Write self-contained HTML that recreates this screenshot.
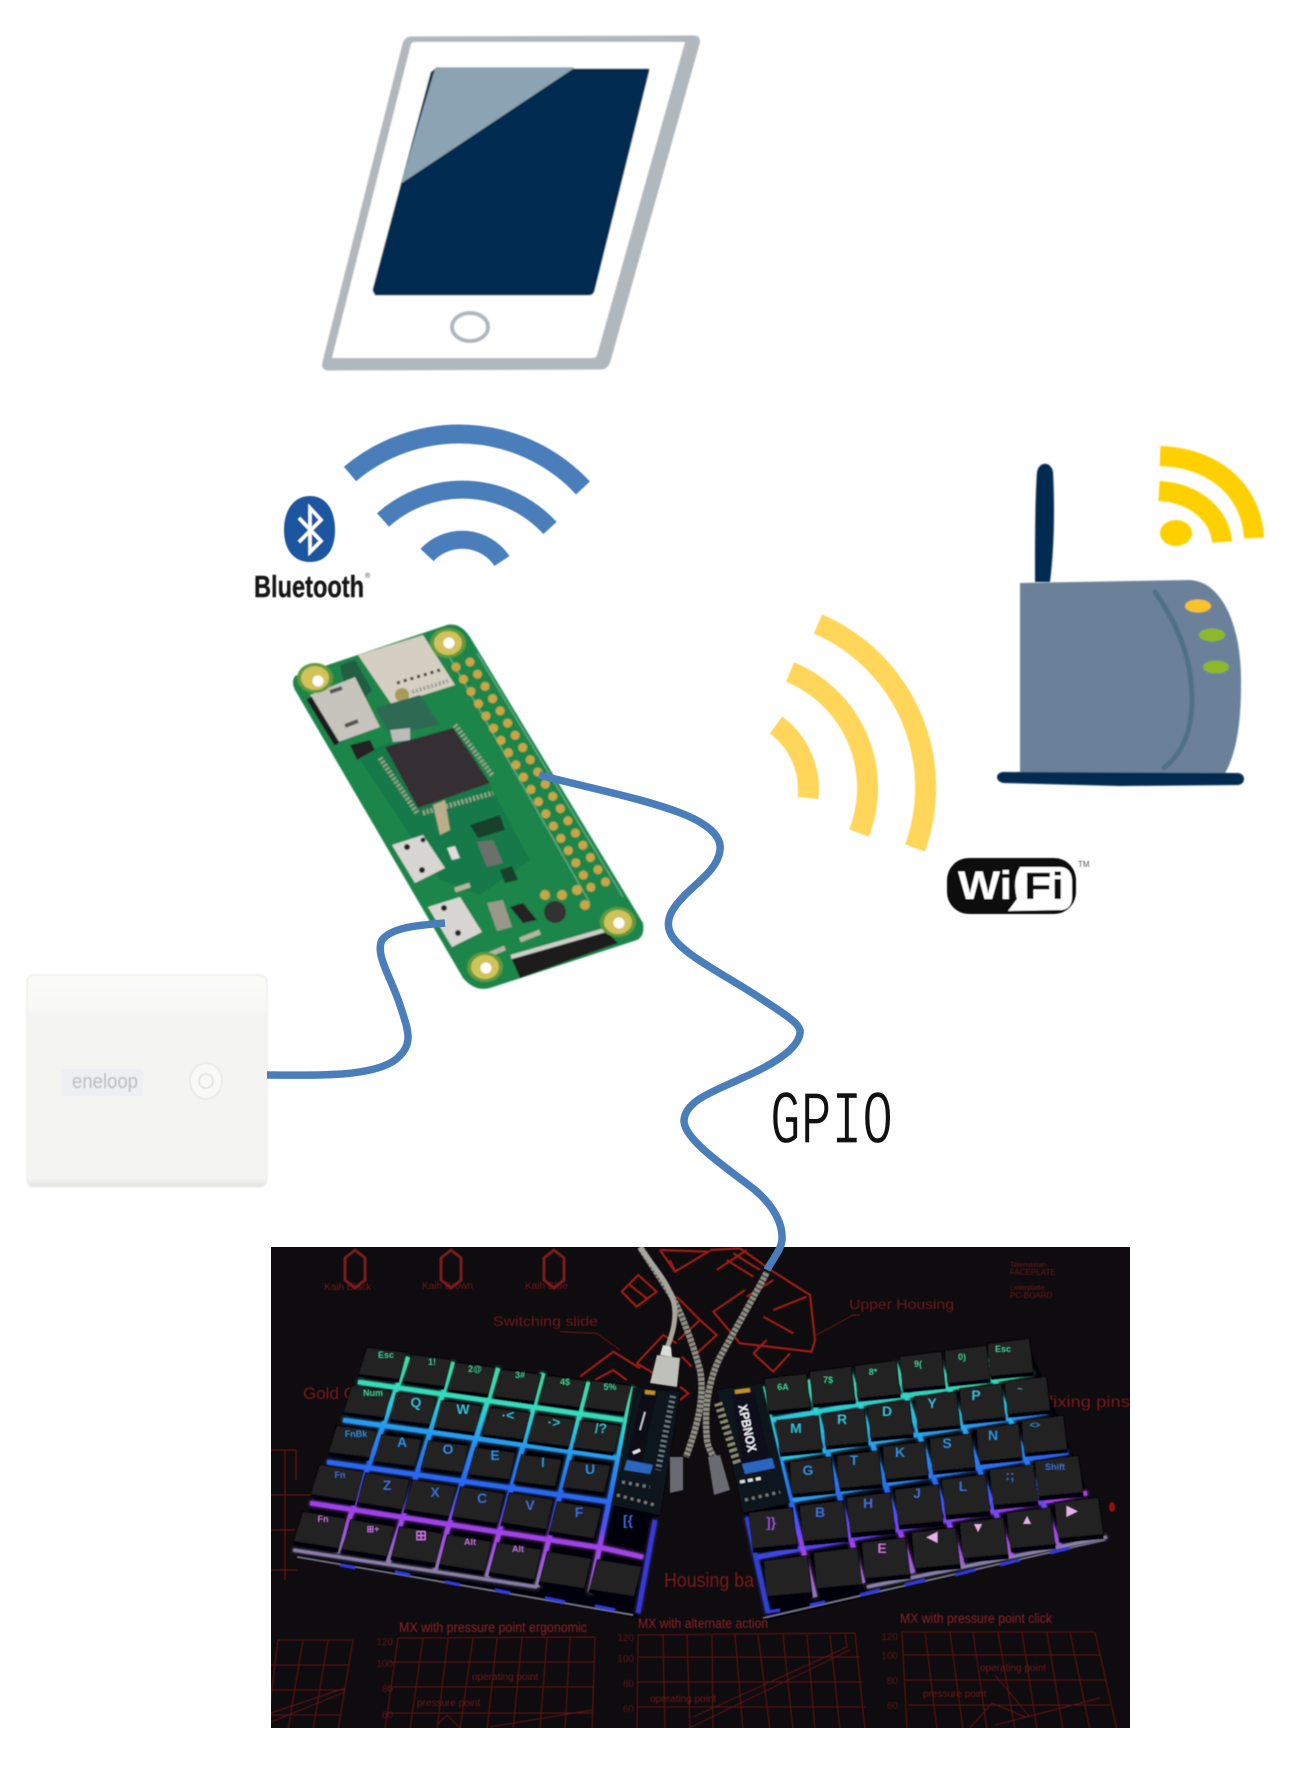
<!DOCTYPE html>
<html lang="en">
<head>
<meta charset="utf-8">
<title>Diagram</title>
<style>
html,body{margin:0;padding:0;background:#fff}
svg{display:block}
text{font-family:"Liberation Sans",sans-serif}
</style>
</head>
<body>
<svg xmlns="http://www.w3.org/2000/svg" width="1300" height="1787" viewBox="0 0 1300 1787">
<defs>
<filter id="b1" filterUnits="userSpaceOnUse" x="0" y="0" width="1300" height="1787"><feGaussianBlur stdDeviation="0.9"/></filter>
<filter id="b0" filterUnits="userSpaceOnUse" x="0" y="0" width="1300" height="1787"><feGaussianBlur stdDeviation="0.6"/></filter>
<filter id="gl" filterUnits="userSpaceOnUse" x="260" y="1330" width="870" height="310"><feGaussianBlur stdDeviation="1.8" result="a"/><feMerge><feMergeNode in="a"/><feMergeNode in="SourceGraphic"/></feMerge></filter>
<clipPath id="kb"><rect x="271" y="1247" width="859" height="481"/></clipPath>
<linearGradient id="gL" gradientUnits="userSpaceOnUse" x1="400" y1="1345" x2="360" y2="1620">
<stop offset="0" stop-color="#3cdc9c"/><stop offset=".15" stop-color="#36dcb8"/><stop offset=".22" stop-color="#28c8e0"/><stop offset=".30" stop-color="#2898f0"/><stop offset=".45" stop-color="#2868f0"/><stop offset=".54" stop-color="#5050f0"/><stop offset=".61" stop-color="#a040e8"/><stop offset=".72" stop-color="#a060d8"/><stop offset=".785" stop-color="#8a80a8"/><stop offset="1" stop-color="#2a30b0"/>
</linearGradient>
<linearGradient id="gR" gradientUnits="userSpaceOnUse" x1="900" y1="1330" x2="930" y2="1605">
<stop offset="0" stop-color="#3cdc9c"/><stop offset=".2" stop-color="#36dcb8"/><stop offset=".3" stop-color="#28c8e0"/><stop offset=".42" stop-color="#2898f0"/><stop offset=".58" stop-color="#2868f0"/><stop offset=".66" stop-color="#5050f0"/><stop offset=".75" stop-color="#a040e8"/><stop offset=".85" stop-color="#a060d8"/><stop offset=".95" stop-color="#8a80a8"/><stop offset="1" stop-color="#2a30b0"/>
</linearGradient>
<linearGradient id="r1"><stop offset="0" stop-color="#28c8e0"/><stop offset="1" stop-color="#38dca0"/></linearGradient>
<linearGradient id="r2"><stop offset="0" stop-color="#28c8e8"/><stop offset="1" stop-color="#2a80f0"/></linearGradient>
<linearGradient id="r3"><stop offset="0" stop-color="#28a0f0"/><stop offset="1" stop-color="#2a60f0"/></linearGradient>
<linearGradient id="r4"><stop offset="0" stop-color="#3848e0"/><stop offset=".4" stop-color="#7040f0"/><stop offset="1" stop-color="#b040e8"/></linearGradient>
<linearGradient id="pb" x1="0" y1="0" x2="0" y2="1">
<stop offset="0" stop-color="#fafaf8"/><stop offset=".16" stop-color="#f8f8f6"/><stop offset=".2" stop-color="#f4f4f3"/><stop offset=".96" stop-color="#f4f4f3"/><stop offset="1" stop-color="#e0e0de"/>
</linearGradient>
<g id="kl"><path d="M-17,-18L24,-13L16,18L-25,12Z" fill="#060607"/><path d="M-16,-17L23,-12L17,14L-24,9Z" fill="#222123"/></g>
<g id="Kl"><path d="M-18,-21L27,-14L18,21L-27,13Z" fill="#060607"/><path d="M-17,-20L26,-13L19,16L-26,9Z" fill="#222123"/></g>
<g id="kr"><path d="M-21,-17L22,-22L26,16L-17,20Z" fill="#060607"/><path d="M-20,-16L21,-21L25,12L-18,16Z" fill="#222123"/></g>
<g id="Kr"><path d="M-24,-18L21,-23L26,19L-19,23Z" fill="#060607"/><path d="M-23,-17L20,-22L25,14L-20,18Z" fill="#222123"/></g>
</defs>

<!-- Tablet -->
<g filter="url(#b1)">
<path d="M411,38L694,37Q700,37 698,44L609,361Q607,368 600,368L329,369Q322,369 324,362L404,44Q406,38 411,38Z" fill="#b1b8bd" stroke="#b1b8bd" stroke-width="3"/>
<path d="M413,42L685,42L597,355Q596,358 592,358L332,358L411,44Z" fill="#fff"/>
<path d="M436,70L648,70L593,291Q592,294 588,294L376,294L374,290L432,73Z" fill="#012c50" stroke="#012c50" stroke-width="3" stroke-linejoin="round"/>
<path d="M436,68L573,68L402,182Z" fill="#8ba3b3" stroke="#8ba3b3" stroke-width="1.5" stroke-linejoin="round"/>
<ellipse cx="470" cy="327" rx="18" ry="14" fill="#fff" stroke="#aeb5bb" stroke-width="4"/>
</g>

<!-- Bluetooth arcs -->
<g fill="none" stroke="#4a7ebb" filter="url(#b0)">
<path d="M350,474A169,169 0 0 1 583,488" stroke-width="19"/>
<path d="M383,520A119,119 0 0 1 550,528" stroke-width="18"/>
<path d="M427,555A48,48 0 0 1 502,561" stroke-width="18"/>
</g>
<g filter="url(#b0)">
<path d="M310,496C326,496 335,510 335,530C335,550 326,562 310,562C294,562 284,550 284,530C284,510 294,496 310,496Z" fill="#1f55a0"/>
<path d="M299,518L321,541L310,552L310,508L321,520L299,542" fill="none" stroke="#fff" stroke-width="3.5"/>
<text x="254" y="597" font-size="31" font-weight="700" fill="#151515" stroke="#151515" stroke-width=".4" textLength="110" lengthAdjust="spacingAndGlyphs">Bluetooth</text>
<text x="365" y="578" font-size="7" fill="#444">®</text>
</g>

<!-- Small yellow signal -->
<g filter="url(#b1)">
<ellipse cx="1176" cy="533" rx="16" ry="13" fill="#ffd000"/>
<path d="M1159,491C1196,493 1220,516 1222,542" fill="none" stroke="#ffd000" stroke-width="20"/>
<path d="M1160,456C1218,458 1252,494 1254,538" fill="none" stroke="#ffd000" stroke-width="20"/>
</g>

<!-- Router -->
<g filter="url(#b1)">
<path d="M1035,582C1035,540 1035,500 1037,472C1039,461 1051,461 1053,472C1055,510 1054,550 1050,582Z" fill="#012c50"/>
<path d="M1020,583L1190,580C1222,582 1242,625 1241,685C1241,725 1236,755 1224,775L1020,775Z" fill="#6b8199"/>
<path d="M1155,592C1182,630 1192,665 1192,700C1192,735 1180,755 1164,768" fill="none" stroke="#4f7087" stroke-width="5" stroke-linecap="round"/>
<path d="M1003,772L1238,773C1246,774 1246,784 1238,785L1120,786L1003,783C995,781 995,773 1003,772Z" fill="#012c50"/>
<ellipse cx="1198" cy="606" rx="13" ry="6.5" fill="#f9c32c"/>
<ellipse cx="1212" cy="635" rx="13" ry="6.5" fill="#8cb82b"/>
<ellipse cx="1216" cy="667" rx="13" ry="6.5" fill="#8cb82b"/>
</g>

<!-- Big yellow arcs -->
<g fill="none" stroke="#ffd65a" stroke-width="21" filter="url(#b0)">
<path d="M818,624A178,178 0 0 1 915,848"/>
<path d="M790,672A125,125 0 0 1 859,833"/>
<path d="M776,725A80,80 0 0 1 808,798"/>
</g>

<!-- Wi-Fi logo -->
<g filter="url(#b0)">
<rect x="947" y="858" width="129" height="56" rx="22" fill="#0a0a0a"/>
<path d="M1020,867L1060,867C1068,867 1072,873 1072,881L1072,897C1072,905 1068,910 1060,910L1008,911L1017,899Q1012,880 1020,867Z" fill="#fff"/>
<text x="958" y="899" font-size="40" font-weight="700" fill="#fff" textLength="54" lengthAdjust="spacingAndGlyphs">Wi</text>
<text x="1024" y="899" font-size="38" font-weight="700" fill="#111" textLength="40" lengthAdjust="spacingAndGlyphs">Fi</text>
<text x="1078" y="867" font-size="8" fill="#555">TM</text>
</g>

<!-- Raspberry Pi -->
<g filter="url(#b1)">
<path d="M295,676L447,625Q460,622 470,637L643,923Q645,936 637,940L490,988Q475,992 463,978L295,690Q291,682 295,676Z" fill="#1c8549"/>
<path d="M382,745L460,730L530,860L480,895L440,880L360,760Z" fill="#17794a"/>
<path d="M447,653L590,903M477,653L623,897" stroke="#66b088" stroke-width="1.2" fill="none"/>
<path d="M358,655L423,635L455,685L392,705Z" fill="#d4cfc0"/>
<circle cx="402" cy="695" r="7" fill="#a89a5a"/>
<path d="M397,683L440,670" stroke="#333" stroke-width="3" stroke-dasharray="3 4"/>
<path d="M412,692L448,681" stroke="#999" stroke-width="4" stroke-dasharray="2 2"/>
<path d="M340,665L355,660L372,690L358,705L345,690Z" fill="#235f42"/>
<path d="M375,708L420,695L440,725L390,735Z" fill="#2f6b53"/>
<path d="M310,695L355,677L380,727L338,742Z" fill="#c6c4bd"/>
<path d="M309,698L337,744" stroke="#1a1a1a" stroke-width="6"/>
<path d="M330,692L342,688M345,726L358,721" stroke="#555" stroke-width="4"/>
<path d="M385,747L453,728L490,783L418,808Z" fill="#342f30"/>
<path d="M380,758L417,813M423,813L493,793M455,725L492,775" stroke="#9aa68e" stroke-width="5" stroke-dasharray="2 2" fill="none"/>
<path d="M390,730L410,728L410,740L393,742Z" fill="#bbb"/>
<path d="M350,745L370,740L375,750L357,760Z" fill="#222"/>
<path d="M392,845L423,835L445,868L415,883Z" fill="#d8d6d2"/>
<path d="M428,907L460,897L482,932L452,947Z" fill="#d8d6d2"/>
<circle cx="407" cy="847" r="3" fill="#222"/><circle cx="422" cy="870" r="3" fill="#222"/><circle cx="423" cy="840" r="2.5" fill="#222"/>
<circle cx="444" cy="908" r="3" fill="#222"/><circle cx="458" cy="933" r="3" fill="#222"/>
<path d="M510,955L603,928L618,943L520,978Z" fill="#1c1c1c"/>
<path d="M511,957L605,930" stroke="#cfcfc8" stroke-width="4.5"/>
<circle cx="555" cy="912" r="11" fill="#333"/>
<path d="M510,907L523,903L537,920L523,923Z" fill="#222"/>
<path d="M487,903L503,900L512,927L497,931Z" fill="#99998a"/>
<path d="M477,842L493,840L503,863L487,867Z" fill="#6b6f6c"/>
<path d="M447,848L455,846L460,858L452,860Z" fill="#ddd"/>
<path d="M470,825L500,815L505,830L478,838ZM500,870L512,866L518,880L505,883Z" fill="#123f2a"/>
<path d="M433,805L445,800L450,830L440,835Z" fill="#bcae8c"/>
<path d="M520,940L540,932M488,955L505,948M455,890L470,885" stroke="#b5b5a0" stroke-width="5"/>
<circle cx="545" cy="895" r="5" fill="#c7a645"/><circle cx="562" cy="895" r="5" fill="#c7a645"/><circle cx="577" cy="890" r="5" fill="#c7a645"/><circle cx="585" cy="905" r="5" fill="#c7a645"/>
<path d="M470,662L613,894" stroke="#c9a545" stroke-width="9" stroke-linecap="round" stroke-dasharray="0 14.35" fill="none"/>
<path d="M456,667L598,899" stroke="#c9a545" stroke-width="9" stroke-linecap="round" stroke-dasharray="0 14.35" fill="none"/>
<ellipse cx="315" cy="678" rx="18" ry="15" fill="#5f9a3e"/><ellipse cx="315" cy="678" rx="14" ry="12" fill="#d2c25a"/><circle cx="318" cy="681" r="5.5" fill="#fff"/>
<ellipse cx="448" cy="643" rx="18" ry="15" fill="#5f9a3e"/><ellipse cx="448" cy="643" rx="14" ry="12" fill="#d2c25a"/><circle cx="449" cy="643" r="5.5" fill="#fff"/>
<ellipse cx="485" cy="967" rx="18" ry="15" fill="#5f9a3e"/><ellipse cx="485" cy="967" rx="14" ry="12" fill="#d2c25a"/><circle cx="486" cy="968" r="5.5" fill="#fff"/>
<ellipse cx="618" cy="922" rx="18" ry="15" fill="#5f9a3e"/><ellipse cx="618" cy="922" rx="14" ry="12" fill="#d2c25a"/><circle cx="619" cy="923" r="5.5" fill="#fff"/>
</g>

<!-- Power bank -->
<g filter="url(#b0)">
<rect x="27" y="975" width="240" height="212" rx="7" fill="url(#pb)" stroke="#efefed" stroke-width="1.5"/>
<rect x="61" y="1069" width="82" height="27" fill="#eeeff3"/>
<text x="72" y="1088" font-size="20" fill="#bbbbbb" textLength="66" lengthAdjust="spacingAndGlyphs">eneloop</text>
<ellipse cx="206" cy="1081" rx="16" ry="18" fill="#f9f9f8" stroke="#e6e6e4" stroke-width="1.5"/>
<circle cx="206" cy="1081" r="7" fill="none" stroke="#dedede" stroke-width="1.5"/>
</g>

<!-- Keyboard -->
<rect x="271" y="1247" width="859" height="481" fill="#0e0c0e"/>
<g clip-path="url(#kb)">
<g filter="url(#b0)">
<g fill="none" stroke="#581318" stroke-width="1.2">
<path d="M278,1640H353M271,1665H349M271,1690H345M271,1715H341M278,1640L267,1730M303,1640L288,1730M328,1640L313,1730M353,1640L338,1730M271,1713L345,1688M271,1722L345,1692"/>
<path d="M398,1638L595,1637M390,1662H594M388,1687H593M386,1713H592M398,1638L385,1730M423,1638L410,1730M448,1638L437,1730M473,1638L460,1730M497,1638L487,1730M522,1638L513,1730M547,1638L540,1730M570,1638L565,1730M595,1637L592,1730M490,1727L592,1710M437,1725L447,1715L462,1730"/>
<path d="M638,1635L855,1633M638,1657H860M638,1682H863M638,1707H866M638,1635L637,1730M663,1635L665,1730M687,1635L690,1730M712,1635L713,1730M735,1635L743,1730M758,1635L770,1730M783,1635L793,1730M807,1635L815,1730M830,1635L840,1730M855,1633L865,1730M693,1717L847,1647L845,1633M685,1730L850,1650"/>
<path d="M902,1632H1095M904,1655H1100M905,1680H1105M908,1705H1110M902,1632L907,1730M925,1632L937,1730M950,1632L963,1730M973,1632L987,1730M998,1632L1015,1730M1022,1632L1037,1730M1047,1632L1063,1730M1070,1632L1090,1730M1095,1632L1117,1730M970,1728L992,1703L1025,1717M995,1725L1100,1698M995,1675L1030,1717"/>
</g>
<g fill="#8c2226" font-size="14">
<text x="399" y="1632" textLength="188" lengthAdjust="spacingAndGlyphs">MX with pressure point ergonomic</text>
<text x="638" y="1628" textLength="130" lengthAdjust="spacingAndGlyphs">MX with alternate action</text>
<text x="900" y="1623" textLength="152" lengthAdjust="spacingAndGlyphs">MX with pressure point click</text>
<text x="303" y="1399" font-size="17" fill="#7a1a1c">Gold C</text>
<text x="1048" y="1407" fill="#7a1a1c" font-size="16" textLength="82" lengthAdjust="spacingAndGlyphs">fixing pins</text>
<text x="664" y="1587" font-size="20" fill="#7a1a1c" textLength="90" lengthAdjust="spacingAndGlyphs">Housing ba</text>
<text x="493" y="1326" fill="#6e1a1c" textLength="105" lengthAdjust="spacingAndGlyphs">Switching slide</text>
<text x="849" y="1309" fill="#6e1a1c" textLength="105" lengthAdjust="spacingAndGlyphs">Upper Housing</text>
<g fill="#6e1a1e" font-size="10">
<text x="324" y="1290">Kaih Black</text>
<text x="422" y="1289">Kaih Brown</text>
<text x="525" y="1289">Kaih Blue</text>
<text x="472" y="1680">operating point</text>
<text x="417" y="1706">pressure point</text>
<text x="650" y="1702">operating point</text>
<text x="980" y="1671">operating point</text>
<text x="923" y="1697">pressure point</text>
<text x="1010" y="1267" font-size="7">Tatemainan</text>
<text x="1010" y="1275" font-size="8">FACEPLATE</text>
<text x="1010" y="1290" font-size="7">Leiterplatte</text>
<text x="1010" y="1298" font-size="8">PC-BOARD</text>
</g>
<g fill="#5a181c" font-size="10" text-anchor="end">
<text x="393" y="1645">120</text><text x="393" y="1667">100</text><text x="393" y="1692">80</text><text x="393" y="1718">60</text>
<text x="634" y="1641">120</text><text x="634" y="1662">100</text><text x="634" y="1687">80</text><text x="634" y="1712">60</text>
<text x="898" y="1640">120</text><text x="898" y="1659">100</text><text x="898" y="1684">80</text><text x="898" y="1709">60</text>
</g>
</g>
</g>
<g filter="url(#b0)">
<path d="M355,1250l-10,8 0,22 10,8 10,-8 0,-22zM451,1250l-10,8 0,22 10,8 10,-8 0,-22zM554,1250l-10,8 0,22 10,8 10,-8 0,-22z" fill="none" stroke="#7a1a1c" stroke-width="3"/>
<path d="M271,1450H296V1480M285,1450V1580M271,1495H320M271,1530H295M271,1570H297" fill="none" stroke="#5a1416" stroke-width="1.5"/>
<ellipse cx="1112" cy="1507" rx="3" ry="5" fill="#9a1010"/>
<g transform="translate(560,1240) scale(.3333)" fill="none" stroke="#a01c18" stroke-width="6.5">
<path d="M300,30L345,95L445,35L300,30M330,60L345,95"/>
<path d="M450,30L540,25L640,95L750,165L765,300L755,335L540,310L460,215L555,150"/>
<path d="M470,90L560,30M500,60L580,110M520,40L600,90M610,230L700,280M640,210L740,170M560,170L640,120"/>
<path d="M185,155L235,105L290,155L230,200ZM210,135L260,175"/>
<path d="M60,410L160,335L240,385M230,370L310,285L350,310M230,370L290,405M105,420L160,390L200,420"/>
<path d="M580,340L640,395L690,340M580,340L620,300"/>
<path d="M355,300L420,240L470,285L400,350M350,170L420,240"/>
<path d="M360,440L385,460L360,480M365,350L395,380"/>
</g>
<g transform="translate(560,1240) scale(.3333)" fill="none" stroke="#6e1a1c" stroke-width="3">
<path d="M0,275L110,280L180,330M760,290L880,225L900,225"/>
</g>
</g>

<!-- left block -->
<g filter="url(#b0)">
<path d="M375,1350L633,1387L680,1392L660,1515L655,1520L638,1618L297,1557L294,1548Z" fill="#060608"/>
<g fill="none" stroke="url(#gL)" stroke-width="4.5" filter="url(#gl)">
<path d="M358,1382L623,1420"/>
<path d="M343,1420L618,1458"/>
<path d="M327,1462L610,1502"/>
<path d="M310,1503L603,1548L643,1557"/>
<path d="M293,1550L537,1587" stroke-width="3"/>
<path d="M408,1357L337,1553"/>
<path d="M453,1362L388,1563"/>
<path d="M498,1368L435,1570"/>
<path d="M543,1373L487,1577"/>
<path d="M588,1382L537,1587"/>
<path d="M633,1387L590,1593"/>
<path d="M655,1520L638,1613" stroke="#3a38d0"/>
</g>
<use href="#kl" x="383" y="1365"/><use href="#kl" x="428" y="1372"/><use href="#kl" x="472" y="1380"/><use href="#kl" x="518" y="1387"/><use href="#kl" x="563" y="1393"/><use href="#kl" x="608" y="1398"/>
<use href="#kl" x="368" y="1403"/><use href="#kl" x="413" y="1410"/><use href="#kl" x="458" y="1418"/><use href="#kl" x="507" y="1425"/><use href="#kl" x="552" y="1432"/><use href="#kl" x="597" y="1438"/>
<use href="#kl" x="353" y="1443"/><use href="#kl" x="398" y="1452"/><use href="#kl" x="445" y="1458"/><use href="#kl" x="492" y="1465"/><use href="#kl" x="538" y="1472"/><use href="#kl" x="587" y="1478"/>
<use href="#Kl" x="337" y="1485"/><use href="#Kl" x="383" y="1493"/><use href="#Kl" x="430" y="1500"/><use href="#Kl" x="478" y="1507"/><use href="#Kl" x="527" y="1513"/><use href="#Kl" x="575" y="1522"/>
<use href="#Kl" x="320" y="1532"/><use href="#Kl" x="368" y="1540"/><use href="#Kl" x="417" y="1547"/><use href="#Kl" x="465" y="1555"/><use href="#Kl" x="515" y="1563"/><use href="#Kl" x="565" y="1572"/><use href="#Kl" x="615" y="1580"/>
<path d="M297,1557L633,1615" stroke="#77778a" stroke-width="1.5"/>
<path d="M340,1565L355,1568M395,1572L410,1575M445,1582L460,1585M495,1590L510,1593M545,1598L565,1602M595,1606L615,1610" stroke="#3038e0" stroke-width="3"/>
</g>

<!-- right block -->
<g filter="url(#b0)">
<path d="M717,1390L762,1383L1028,1343L1107,1540L768,1620L747,1517L743,1513Z" fill="#060608"/>
<g fill="none" stroke="url(#gR)" stroke-width="4.5" filter="url(#gl)">
<path d="M772,1420L1033,1373" stroke="url(#r1)"/>
<path d="M782,1458L1048,1412" stroke="url(#r2)"/>
<path d="M793,1500L1068,1452" stroke="url(#r3)"/>
<path d="M758,1557L1087,1493" stroke="url(#r4)"/>
<path d="M867,1587L1107,1537" stroke="#8a80a8" stroke-width="3"/>
<path d="M762,1387L815,1597"/>
<path d="M808,1380L863,1583"/>
<path d="M850,1372L913,1573"/>
<path d="M895,1363L963,1565"/>
<path d="M938,1358L1012,1557"/>
<path d="M983,1350L1060,1547"/>
<path d="M747,1517L768,1613" stroke="#3040d0"/>
</g>
<use href="#kr" x="785" y="1395"/><use href="#kr" x="830" y="1388"/><use href="#kr" x="875" y="1382"/><use href="#kr" x="920" y="1373"/><use href="#kr" x="965" y="1367"/><use href="#kr" x="1008" y="1360"/>
<use href="#kr" x="797" y="1437"/><use href="#kr" x="843" y="1430"/><use href="#kr" x="888" y="1422"/><use href="#kr" x="935" y="1413"/><use href="#kr" x="980" y="1405"/><use href="#kr" x="1025" y="1398"/>
<use href="#kr" x="810" y="1478"/><use href="#kr" x="857" y="1472"/><use href="#kr" x="903" y="1463"/><use href="#kr" x="950" y="1455"/><use href="#kr" x="997" y="1445"/><use href="#kr" x="1042" y="1437"/>
<use href="#Kr" x="772" y="1530"/><use href="#Kr" x="823" y="1523"/><use href="#Kr" x="870" y="1515"/><use href="#Kr" x="918" y="1507"/><use href="#Kr" x="965" y="1497"/><use href="#Kr" x="1013" y="1487"/><use href="#Kr" x="1058" y="1478"/>
<use href="#Kr" x="787" y="1578"/><use href="#Kr" x="837" y="1570"/><use href="#Kr" x="885" y="1560"/><use href="#Kr" x="935" y="1550"/><use href="#Kr" x="983" y="1540"/><use href="#Kr" x="1030" y="1530"/><use href="#Kr" x="1078" y="1520"/>
<path d="M763,1618L1105,1540" stroke="#77778a" stroke-width="1.5"/>
<path d="M768,1612L780,1610M810,1605L825,1602M860,1595L880,1590M905,1585L925,1580M955,1575L975,1570M1000,1565L1020,1560M1050,1553L1070,1548" stroke="#3038e0" stroke-width="3"/>
</g>

<!-- key legends -->
<g font-size="14" font-weight="700" text-anchor="middle" filter="url(#b0)">
<g fill="#38d898" font-size="9">
<text x="386" y="1358">Esc</text><text x="432" y="1365">1!</text><text x="475" y="1372">2@</text><text x="520" y="1378">3#</text><text x="565" y="1385">4$</text><text x="610" y="1390">5%</text>
<text x="783" y="1390">6A</text><text x="828" y="1383">7$</text><text x="873" y="1375">8*</text><text x="918" y="1367">9(</text><text x="962" y="1360">0)</text><text x="1003" y="1352">Esc</text>
<text x="373" y="1396">Num</text>
</g>
<g fill="#30c0d8">
<text x="416" y="1407">Q</text><text x="463" y="1414">W</text><text x="508" y="1420">·&lt;</text><text x="554" y="1427">·&gt;</text><text x="601" y="1433">/?</text>
<text x="796" y="1433">M</text><text x="842" y="1424">R</text><text x="887" y="1416">D</text><text x="932" y="1408">Y</text><text x="976" y="1400">P</text><text x="1020" y="1392" font-size="9">~</text>
</g>
<g fill="#2c90e8">
<text x="402" y="1447">A</text><text x="448" y="1454">O</text><text x="495" y="1460">E</text><text x="543" y="1467">I</text><text x="590" y="1474">U</text>
<text x="808" y="1475">G</text><text x="854" y="1465">T</text><text x="900" y="1457">K</text><text x="947" y="1448">S</text><text x="993" y="1440">N</text>
<text x="356" y="1437" font-size="9">FnBk</text><text x="1035" y="1428" font-size="9">&lt;&gt;</text>
</g>
<g fill="#3a70e0">
<text x="387" y="1490">Z</text><text x="435" y="1497">X</text><text x="482" y="1503">C</text><text x="530" y="1510">V</text><text x="579" y="1517">F</text><text x="628" y="1525">[{</text>
<text x="820" y="1517">B</text><text x="868" y="1508">H</text><text x="917" y="1498">J</text><text x="963" y="1491">L</text><text x="1010" y="1480">:;</text>
<text x="340" y="1478" font-size="9">Fn</text><text x="1055" y="1470" font-size="9">Shift</text>
</g>
<g fill="#9a50d8"><text x="771" y="1527">]}</text></g>
<g fill="#d070e8">
<text x="323" y="1522" font-size="9">Fn</text><text x="373" y="1532" font-size="9">⊞+</text><text x="421" y="1540">⊞</text><text x="470" y="1545" font-size="9">Alt</text><text x="518" y="1552" font-size="9">Alt</text>
<text x="882" y="1553">E</text><text x="932" y="1541" fill="#e8b0e8">◀</text><text x="978" y="1532" fill="#e8b0e8">▼</text><text x="1027" y="1524" fill="#e8b0e8">▲</text><text x="1072" y="1515" fill="#e8b0e8">▶</text>
</g>
</g>

<!-- controllers and cables -->
<g filter="url(#b0)">
<path d="M640,1247C655,1270 665,1285 671,1295C680,1310 692,1340 700,1370C705,1395 698,1425 686,1457" fill="none" stroke="#8f8f86" stroke-width="6.5"/>
<path d="M640,1247C655,1270 665,1285 671,1295C680,1310 692,1340 700,1370C705,1395 698,1425 686,1457" fill="none" stroke="#3a3a36" stroke-width="6.5" stroke-dasharray="1.5 3"/>
<path d="M767,1272C755,1295 735,1330 720,1357C708,1382 704,1410 707,1440C708,1448 712,1455 717,1462" fill="none" stroke="#8f8f86" stroke-width="6.5"/>
<path d="M767,1272C755,1295 735,1330 720,1357C708,1382 704,1410 707,1440C708,1448 712,1455 717,1462" fill="none" stroke="#3a3a36" stroke-width="6.5" stroke-dasharray="1.5 3"/>
<path d="M640,1247C652,1265 668,1282 673,1300C678,1318 672,1335 667,1348" fill="none" stroke="#a8a69c" stroke-width="5"/>
<path d="M663,1345L671,1347L672,1357L660,1355Z" fill="#ddd"/>
<path d="M657,1355L680,1358L677,1387L650,1383Z" fill="#c0c0ba"/>
<path d="M670,1457L683,1457L683,1490L670,1493Z" fill="#6a6a72"/>
<path d="M708,1457L720,1455L730,1490L714,1495Z" fill="#6a6a72"/>
<path d="M633,1387L680,1392L660,1515L612,1505Z" fill="#10141c"/>
<path d="M642,1393L657,1395L642,1462L627,1458Z" fill="#090c18"/>
<path d="M645,1392L655,1393" stroke="#c89020" stroke-width="4"/>
<path d="M627,1460L653,1465L650,1474L624,1470Z" fill="#2a66c0"/>
<path d="M673,1396L658,1470" stroke="#6a7a80" stroke-width="6" stroke-dasharray="2 3"/>
<path d="M640,1430L645,1412" stroke="#cfd4e0" stroke-width="1.5"/>
<path d="M633,1453L640,1450" stroke="#e8e8f0" stroke-width="3"/>
<path d="M622,1482L650,1487M617,1495L655,1505" stroke="#777" stroke-width="3" stroke-dasharray="3 4"/>
<path d="M717,1390L762,1383L790,1503L743,1513Z" fill="#11161e"/>
<path d="M732,1395L755,1392L770,1460L743,1467Z" fill="#0a0f1e"/>
<path d="M735,1392L750,1390" stroke="#c89020" stroke-width="4"/>
<path d="M742,1464L772,1458L775,1468L745,1474Z" fill="#2a66c0"/>
<path d="M718,1403L737,1463" stroke="#8a8a70" stroke-width="8" stroke-dasharray="3 3"/>
<path d="M740,1482L763,1478" stroke="#dfdfdf" stroke-width="3" stroke-dasharray="5 3"/>
<path d="M745,1500L780,1492" stroke="#777" stroke-width="3" stroke-dasharray="3 4"/>
<text transform="translate(748,1428) rotate(78)" x="0" y="5" font-size="13" font-weight="700" fill="#eef0f8" text-anchor="middle" textLength="48" lengthAdjust="spacingAndGlyphs">XPBNOX</text>
</g>
</g>

<!-- Wires -->
<g fill="none" stroke="#4a7ebb" stroke-width="7.5">
<path d="M539,775C590,788 640,798 678,812C705,822 722,835 720,850C718,868 700,880 685,895C672,908 665,920 670,932C678,952 720,972 757,996C785,1014 802,1025 800,1033C798,1050 770,1066 740,1079C715,1091 686,1100 684,1120C683,1140 730,1170 755,1190C775,1207 783,1225 782,1240C781,1250 772,1260 767,1270"/>
<path d="M267,1075C310,1075 370,1078 395,1060C415,1045 408,1030 400,1005C390,975 375,955 382,940C392,927 420,925 445,923"/>
</g>

<!-- GPIO label -->
<text x="770" y="1143" font-size="76" fill="#111" textLength="123" lengthAdjust="spacingAndGlyphs" style="font-family:'Liberation Mono',monospace" stroke="#fff" stroke-width="1.2">GPIO</text>
</svg>
</body>
</html>
